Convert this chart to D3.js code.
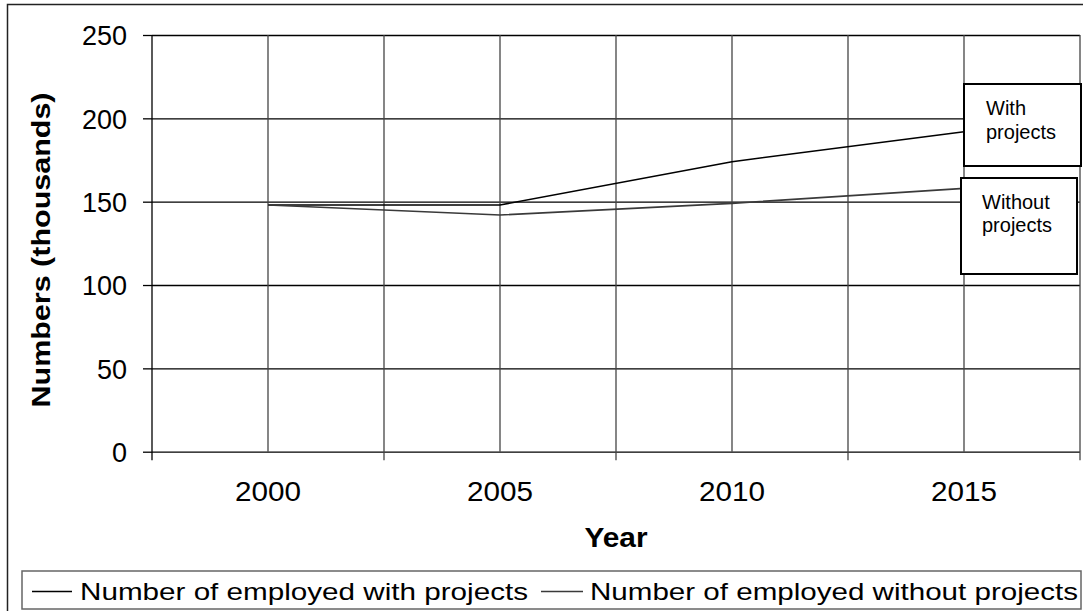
<!DOCTYPE html>
<html>
<head>
<meta charset="utf-8">
<script src="https://cdn.jsdelivr.net/npm/d3@7"></script>
<style>
  html, body { margin: 0; padding: 0; background: #fff; }
  svg { display: block; }
  text { font-family: "Liberation Sans", Arial, Helvetica, sans-serif; fill: #000; }
</style>
</head>
<body>
<svg id="chart" width="1083" height="611"></svg>
<script>
// ---- Data ----
const years = ["2000", "2005", "2010", "2015"];
const withProjects = [148, 148, 174, 192];
const withoutProjects = [148, 142, 149, 158];
const yTicks = [0, 50, 100, 150, 200, 250];
const seriesNames = ["Number of employed with projects", "Number of employed without projects"];
const annotations = ["With\nprojects", "Without\nprojects"];

// ---- Layout ----
const W = 1083, H = 611;
const plot = { left: 152, right: 1080, top: 35, bottom: 451.7 };
const svg = d3.select("#chart");

// outer border
svg.append("rect")
  .attr("x", 7.5).attr("y", 4.5).attr("width", W + 10).attr("height", H + 10)
  .attr("fill", "#fff").attr("stroke", "#222").attr("stroke-width", 1.5);

const x = d3.scaleBand().domain(years).range([plot.left, plot.right]).padding(0);
const y = d3.scaleLinear().domain([0, 250]).range([plot.bottom, plot.top]);
const cx = d => x(d) + x.bandwidth() / 2;

// horizontal gridlines + y ticks
const yAxis = svg.append("g").attr("transform", `translate(${plot.left},0)`)
  .call(d3.axisLeft(y).tickValues(yTicks).tickSize(9).tickPadding(16).tickFormat(d3.format("d")));
yAxis.select(".domain").remove();
yAxis.selectAll(".tick line").attr("stroke", "#000").attr("stroke-width", 1.3);
yAxis.selectAll(".tick text")
  .attr("font-size", 27).attr("dy", "0.36em")
  .style("font-family", "'Liberation Sans', Arial, sans-serif");

svg.append("g").attr("transform", `translate(${plot.left},0)`)
  .call(d3.axisLeft(y).tickValues(yTicks).tickSize(-(plot.right - plot.left)).tickFormat(""))
  .call(g => g.select(".domain").remove())
  .selectAll(".tick line").attr("stroke", "#000").attr("stroke-width", 1.3);

// vertical gridlines at category centres
svg.append("g").selectAll("line").data(years).join("line")
  .attr("x1", d => cx(d)).attr("x2", d => cx(d))
  .attr("y1", plot.top).attr("y2", plot.bottom)
  .attr("stroke", "#444").attr("stroke-width", 1.3);

// vertical gridlines + ticks at category boundaries
const bounds = years.map(d => x(d)).concat([plot.right]);
svg.append("g").selectAll("line").data(bounds).join("line")
  .attr("x1", d => d).attr("x2", d => d)
  .attr("y1", plot.top).attr("y2", plot.bottom + 8.5)
  .attr("stroke", (d, i) => i === 0 ? "#000" : "#444").attr("stroke-width", 1.3);

// x labels
const xAxis = svg.append("g").attr("transform", `translate(0,${plot.bottom})`)
  .call(d3.axisBottom(x).tickSize(0).tickPadding(30));
xAxis.select(".domain").remove();
xAxis.selectAll(".tick text")
  .attr("font-size", 27).attr("dy", "0.71em")
  .attr("textLength", 66).attr("lengthAdjust", "spacingAndGlyphs")
  .style("font-family", "'Liberation Sans', Arial, sans-serif");

// axis titles
svg.append("text").attr("x", 616).attr("y", 547)
  .attr("text-anchor", "middle").attr("font-size", 27).attr("font-weight", "bold")
  .attr("textLength", 63).attr("lengthAdjust", "spacingAndGlyphs")
  .text("Year");
svg.append("text")
  .attr("transform", "translate(50,250) rotate(-90)")
  .attr("text-anchor", "middle").attr("font-size", 25).attr("font-weight", "bold")
  .attr("textLength", 315).attr("lengthAdjust", "spacingAndGlyphs")
  .text("Numbers (thousands)");

// lines
const line = d3.line().x((d, i) => cx(years[i])).y(d => y(d));
const seriesData = [withProjects, withoutProjects];
const seriesColors = ["#000", "#3a3a3a"];
svg.append("g").selectAll("path").data(seriesData).join("path")
  .attr("d", line)
  .attr("fill", "none")
  .attr("stroke", (d, i) => seriesColors[i])
  .attr("stroke-width", 1.6);

// annotation boxes
const boxes = [
  { x: 964, y: 84, w: 117, h: 82, tx: 986, ty: [115, 139] },
  { x: 961, y: 178, w: 116, h: 96, tx: 982, ty: [209, 232] }
];
boxes.forEach((b, i) => {
  svg.append("rect").attr("x", b.x).attr("y", b.y).attr("width", b.w).attr("height", b.h)
    .attr("fill", "#fff").attr("stroke", "#000").attr("stroke-width", 2);
  annotations[i].split("\n").forEach((t, j) => {
    svg.append("text").attr("x", b.tx).attr("y", b.ty[j]).attr("font-size", 20).text(t);
  });
});

// legend
svg.append("rect").attr("x", 22).attr("y", 571).attr("width", 1059).attr("height", 38)
  .attr("fill", "#fff").attr("stroke", "#666").attr("stroke-width", 1.5);
const legendItems = [
  { x1: 32, x2: 72, tx: 80, len: 448 },
  { x1: 541, x2: 583, tx: 590, len: 488 }
];
legendItems.forEach((it, i) => {
  svg.append("line").attr("x1", it.x1).attr("x2", it.x2).attr("y1", 591.5).attr("y2", 591.5)
    .attr("stroke", seriesColors[i]).attr("stroke-width", 1.6);
  svg.append("text").attr("x", it.tx).attr("y", 599.5).attr("font-size", 24)
    .attr("textLength", it.len).attr("lengthAdjust", "spacingAndGlyphs")
    .text(seriesNames[i]);
});
</script>
</body>
</html>
